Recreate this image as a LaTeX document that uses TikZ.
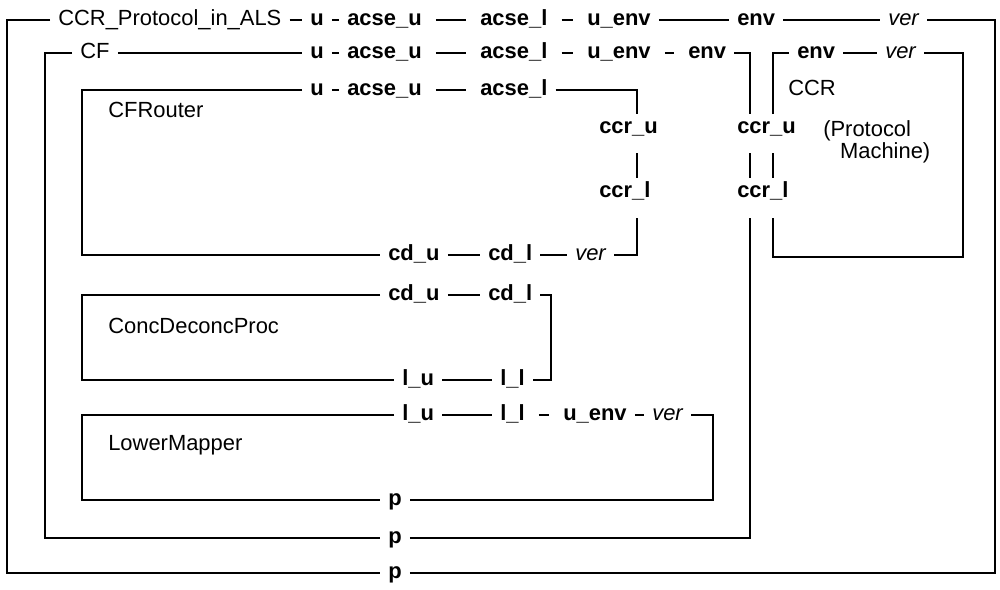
\documentclass[tikz,border=0pt]{standalone}
\usepackage{fontspec}
\setmainfont{Liberation Sans}
\usetikzlibrary{calc}
\begin{document}
\begin{tikzpicture}[x=0.025cm, y=-0.025cm,
        wire/.style={line width=1.6pt},
        tightlink/.style={shorten <=0.15cm, shorten >=0.15cm},
        portlbl/.style={anchor=west, inner xsep=0.2cm, inner ysep=0.075cm,
            text height=11.5pt, text depth=3.5pt,
            font=\fontsize{15.6}{19}\selectfont\bfseries},
        verlbl/.style={portlbl, font=\fontsize{15.6}{19}\selectfont\itshape},
        boxlbl/.style={portlbl, font=\fontsize{15.6}{19}\selectfont},
        gapup/.style={shorten <=0.28cm},
        gapdown/.style={shorten >=0.3cm}
      ]
      \useasboundingbox (0,0) rectangle (1000,590);
      \coordinate (xO) at (7,0);
      \coordinate (xC) at (45,0);
      \coordinate (xI) at (82,0);
      \coordinate (xConc) at (551,0);
      \coordinate (xA) at (637,0);
      \coordinate (xL) at (713,0);
      \coordinate (xB) at (750,0);
      \coordinate (xCC) at (773,0);
      \coordinate (xR) at (995,0);
      \coordinate (ccrBot) at (963,257);

      \node[boxlbl] (als) at (50,20) {CCR\_Protocol\_in\_ALS};
      \node[portlbl] (uA) at (302,20) {u};
      \node[portlbl] (acseuA) at (339,20) {acse\_u};
      \node[portlbl] (acselA) at (472,20) {acse\_l};
      \node[portlbl] (uenvA) at (579,20) {u\_env};
      \node[portlbl] (envA) at (729,20) {env};
      \node[verlbl] (verA) at (880,20) {ver};

      \node[boxlbl] (cf) at (72,53) {CF};
      \node[portlbl] (uB) at (302,53) {u};
      \node[portlbl] (acseuB) at (339,53) {acse\_u};
      \node[portlbl] (acselB) at (472,53) {acse\_l};
      \node[portlbl] (uenvB) at (579,53) {u\_env};
      \node[portlbl] (envB) at (680,53) {env};
      \node[portlbl] (envC) at (789,53) {env};
      \node[verlbl] (verC) at (877,53) {ver};
      \node[boxlbl] (ccr) at (780,90) {CCR};
      \node[anchor=north west, inner xsep=0.2cm, inner ysep=0.075cm, align=left,
        font=\fontsize{15.6}{14.5}\selectfont] (pm) at (815,117)
      {(Protocol\\\hspace*{0.42cm}Machine)};

      \node[portlbl] (uR) at (302,90) {u};
      \node[portlbl] (acseuR) at (339,90) {acse\_u};
      \node[portlbl] (acselR) at (472,90) {acse\_l};
      \node[boxlbl] (router) at (100,112) {CFRouter};
      \node[portlbl] (ccruA) at (591,128) {ccr\_u};
      \node[portlbl] (ccrlA) at (591,192) {ccr\_l};
      \node[portlbl] (ccruB) at (729,128) {ccr\_u};
      \node[portlbl] (ccrlB) at (729,192) {ccr\_l};
      \node[portlbl] (cduR) at (380,255) {cd\_u};
      \node[portlbl] (cdlR) at (480,255) {cd\_l};
      \node[verlbl] (verR) at (567,255) {ver};

      \node[portlbl] (cduC) at (380,295) {cd\_u};
      \node[portlbl] (cdlC) at (480,295) {cd\_l};
      \node[boxlbl] (conc) at (100,328) {ConcDeconcProc};
      \node[portlbl] (luC) at (394,380) {l\_u};
      \node[portlbl] (llC) at (492,380) {l\_l};

      \node[portlbl] (luL) at (394,415) {l\_u};
      \node[portlbl] (llL) at (492,415) {l\_l};
      \node[portlbl] (uenvL) at (555,415) {u\_env};
      \node[verlbl] (verL) at (644,415) {ver};
      \node[boxlbl] (mapper) at (100,445) {LowerMapper};
      \node[portlbl] (pL) at (380,500) {p};
      \node[portlbl] (pC) at (380,538) {p};
      \node[portlbl] (pO) at (380,573) {p};

      \draw[wire] (als.west) -| (pO.west -| xO) -- (pO.west);
      \draw[wire] (pO.east) -| (xR |- verA.east) -- (verA.east);
      \draw[wire] (als) -- (uA) -- (acseuA);
      \draw[wire, tightlink] (acseuA) -- (acselA);
      \draw[wire, tightlink] (acselA) -- (uenvA);
      \draw[wire] (uenvA) -- (envA) -- (verA);

      \draw[wire] (cf.west) -| (pC.west -| xC) -- (pC.west);
      \draw[wire] (cf) -- (uB) -- (acseuB);
      \draw[wire, tightlink] (acseuB) -- (acselB);
      \draw[wire, tightlink] (acselB) -- (uenvB);
      \draw[wire, tightlink] (uenvB) -- (envB);
      \draw[wire] (envB.east) -| (ccruB.north -| xB);
      \draw[wire, gapup] (ccruB.south -| xB) -- (ccrlB.north -| xB);
      \draw[wire, gapdown] (pC.east) -| (ccrlB.south -| xB);

      \draw[wire] (ccruB.north -| xCC) |- (envC.west);
      \draw[wire] (envC) -- (verC);
      \draw[wire, gapdown] (verC.east) -| (ccrBot) -| (ccrlB.south -| xCC);
      \draw[wire, gapup] (ccruB.south -| xCC) -- (ccrlB.north -| xCC);

      \draw[wire] (uR.west) -| (cduR.west -| xI) -- (cduR.west);
      \draw[wire] (uR) -- (acseuR);
      \draw[wire, tightlink] (acseuR) -- (acselR);
      \draw[wire] (acselR.east) -| (ccruA.north -| xA);
      \draw[wire, gapup] (ccruA.south -| xA) -- (ccrlA.north -| xA);
      \draw[wire, gapdown] (verR.east) -| (ccrlA.south -| xA);
      \draw[wire] (cduR) -- (cdlR) -- (verR);

      \draw[wire] (cduC.west) -| (luC.west -| xI) -- (luC.west);
      \draw[wire] (cduC) -- (cdlC);
      \draw[wire] (cdlC.east) -| (xConc |- llC.east) -- (llC.east);
      \draw[wire] (luC) -- (llC);

      \draw[wire] (luL.west) -| (pL.west -| xI) -- (pL.west);
      \draw[wire] (luL) -- (llL);
      \draw[wire, tightlink] (llL) -- (uenvL);
      \draw[wire] (uenvL) -- (verL);
      \draw[wire] (verL.east) -| (xL |- pL.east) -- (pL.east);
    \end{tikzpicture}
\end{document}
